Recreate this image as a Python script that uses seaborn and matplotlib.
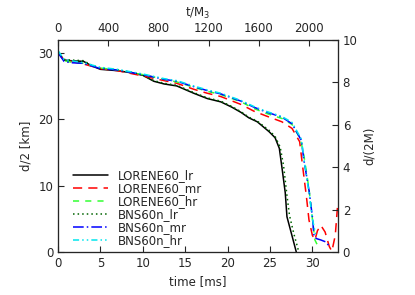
import numpy as np
import pandas as pd
import matplotlib
matplotlib.use("Agg")
import matplotlib.pyplot as plt
import seaborn as sns

# time [ms] and d/2 [km]
t_lorene_lr = [0, 0.7, 1.5, 3, 4, 5, 7, 9, 10, 11.3, 12.5, 14, 16, 17.6, 19.2, 20.5, 21.6,
               22.5, 23.5, 24.9, 25.6, 26.1, 26.4, 26.8, 27.0, 27.5, 28.1]
d_lorene_lr = [30.0, 28.9, 28.8, 28.7, 28.0, 27.5, 27.3, 26.9, 26.6, 25.7, 25.3, 25.0, 23.9,
               23.1, 22.6, 21.8, 21.0, 20.2, 19.6, 18.1, 17.2, 15.6, 12.8, 8.9, 5.3, 2.9, 0.0]

t_lorene_mr = [0, 0.7, 1.5, 3, 5, 7, 10, 12.5, 14, 16, 17.6, 19.2, 21.6, 23.1, 24.5, 26.4, 27.6,
               28.5, 28.8, 29.3, 29.6, 30.0, 30.3, 30.6, 31.0, 31.5, 32.0, 32.3, 32.7, 33.0]
d_lorene_mr = [30.0, 28.9, 28.7, 28.3, 27.6, 27.3, 26.5, 25.8, 25.4, 24.5, 23.9, 23.4, 22.2,
               21.2, 20.5, 19.6, 18.6, 16.6, 13.4, 8.3, 4.8, 2.5, 1.8, 3.2, 4.0, 3.0, 0.8, 0.1,
               2.5, 7.4]

t_lorene_hr = [0, 0.7, 1.5, 3, 5, 7, 10, 12.5, 14, 16, 17.6, 19.2, 21.6, 23.1, 24.5, 26.4, 27.6,
               28.6, 29.0, 29.6, 30.0, 30.3, 30.6, 31.0]
d_lorene_hr = [30.2, 28.8, 28.6, 28.4, 27.7, 27.4, 26.7, 26.0, 25.6, 24.8, 24.2, 23.7, 22.6,
               21.6, 20.9, 20.1, 19.2, 17.0, 14.5, 9.5, 5.0, 1.8, 1.0, 0.8]

t_bns_lr = [0, 0.7, 1.5, 3, 4, 5, 7, 9, 10, 11.3, 12.5, 14, 16, 17.6, 19.2, 20.5, 21.6,
            22.5, 23.5, 24.9, 25.6, 26.2, 26.6, 27.0, 27.3, 27.8, 28.4]
d_bns_lr = [30.1, 29.0, 28.9, 28.8, 28.1, 27.7, 27.4, 27.0, 26.6, 25.8, 25.4, 25.1, 24.0,
            23.2, 22.7, 21.9, 21.1, 20.3, 19.7, 18.3, 17.4, 15.8, 13.0, 8.5, 5.5, 2.8, 0.0]

t_bns_mr = [0, 0.7, 1.5, 3, 5, 7, 10, 12.5, 14, 16, 17.6, 19.2, 21.6, 23.1, 24.5, 26.4, 27.6,
            28.7, 29.0, 29.6, 30.0, 30.2, 30.5, 31.0, 31.6, 31.9]
d_bns_mr = [30.0, 28.7, 28.5, 28.4, 27.6, 27.4, 26.7, 26.0, 25.7, 24.9, 24.3, 23.8, 22.7,
            21.8, 21.1, 20.3, 19.3, 16.8, 13.8, 9.3, 5.3, 2.3, 2.0, 1.8, 1.5, 1.0]

t_bns_hr = [0, 0.7, 1.5, 3, 5, 7, 10, 12.5, 14, 16, 17.6, 19.2, 21.6, 23.1, 24.5, 26.4, 27.6,
            28.7, 29.0, 29.6, 30.0, 30.4]
d_bns_hr = [30.3, 29.0, 28.8, 28.5, 27.8, 27.5, 26.8, 26.1, 25.8, 25.0, 24.4, 23.9, 22.8,
            21.9, 21.2, 20.4, 19.5, 17.0, 14.0, 9.0, 5.0, 2.5]

runs = ["LORENE60_lr", "LORENE60_mr", "LORENE60_hr", "BNS60n_lr", "BNS60n_mr", "BNS60n_hr"]
times = [t_lorene_lr, t_lorene_mr, t_lorene_hr, t_bns_lr, t_bns_mr, t_bns_hr]
dists = [d_lorene_lr, d_lorene_mr, d_lorene_hr, d_bns_lr, d_bns_mr, d_bns_hr]

df = pd.concat([pd.DataFrame({"t": t, "d": d, "run": r}) for r, t, d in zip(runs, times, dists)],
               ignore_index=True)

colors = {"LORENE60_lr": "black", "LORENE60_mr": "#ff0000", "LORENE60_hr": "#33ff33",
          "BNS60n_lr": "#006400", "BNS60n_mr": "#0000ff", "BNS60n_hr": "#00e5ee"}
dashes = {"LORENE60_lr": "", "LORENE60_mr": (6, 4), "LORENE60_hr": (4, 4),
          "BNS60n_lr": (1, 2), "BNS60n_mr": (7, 2, 1, 2), "BNS60n_hr": (4, 2, 1, 2, 1, 2)}

sns.set_style("ticks")
plt.rcParams["font.family"] = ["DejaVu Sans"]
plt.rcParams["font.size"] = 8.5

fig = plt.figure(figsize=(4.15, 2.95), dpi=100)
ax = fig.add_axes([0.140, 0.146, 0.674, 0.718])

sns.lineplot(data=df, x="t", y="d", hue="run", style="run", palette=colors, dashes=dashes,
             hue_order=runs, style_order=runs, sort=False, estimator=None, linewidth=1.1, ax=ax)

ax.set_xlim(0, 33)
ax.set_ylim(0, 31.9)
ax.set_xticks([0, 5, 10, 15, 20, 25, 30])
ax.set_yticks([0, 10, 20, 30])
ax.set_xlabel("time [ms]", fontsize=8.5)
ax.set_ylabel("d/2 [km]", fontsize=8.5)
ax.tick_params(direction="in", length=4, labelsize=8.5)

leg = ax.legend(loc="lower left", frameon=False, fontsize=8.5, handlelength=3.0,
                labelspacing=0.0, borderaxespad=0.0, handletextpad=0.8,
                bbox_to_anchor=(0.035, 0.0))

top = ax.twiny()
top.set_xlim(0, 33 * 67.6)
top.set_xticks([0, 400, 800, 1200, 1600, 2000])
top.set_xlabel("t/M$_3$", fontsize=8.5)
top.tick_params(direction="in", length=4, labelsize=8.5)

right = ax.twinx()
right.set_ylim(0, 10)
right.set_yticks([0, 2, 4, 6, 8, 10])
right.set_ylabel("d/(2M)", fontsize=8.5)
right.tick_params(direction="in", length=4, labelsize=8.5)

for a in (ax, top, right):
    for s in a.spines.values():
        s.set_linewidth(0.8)
        s.set_visible(True)

fig.savefig("out.png", dpi=100)
